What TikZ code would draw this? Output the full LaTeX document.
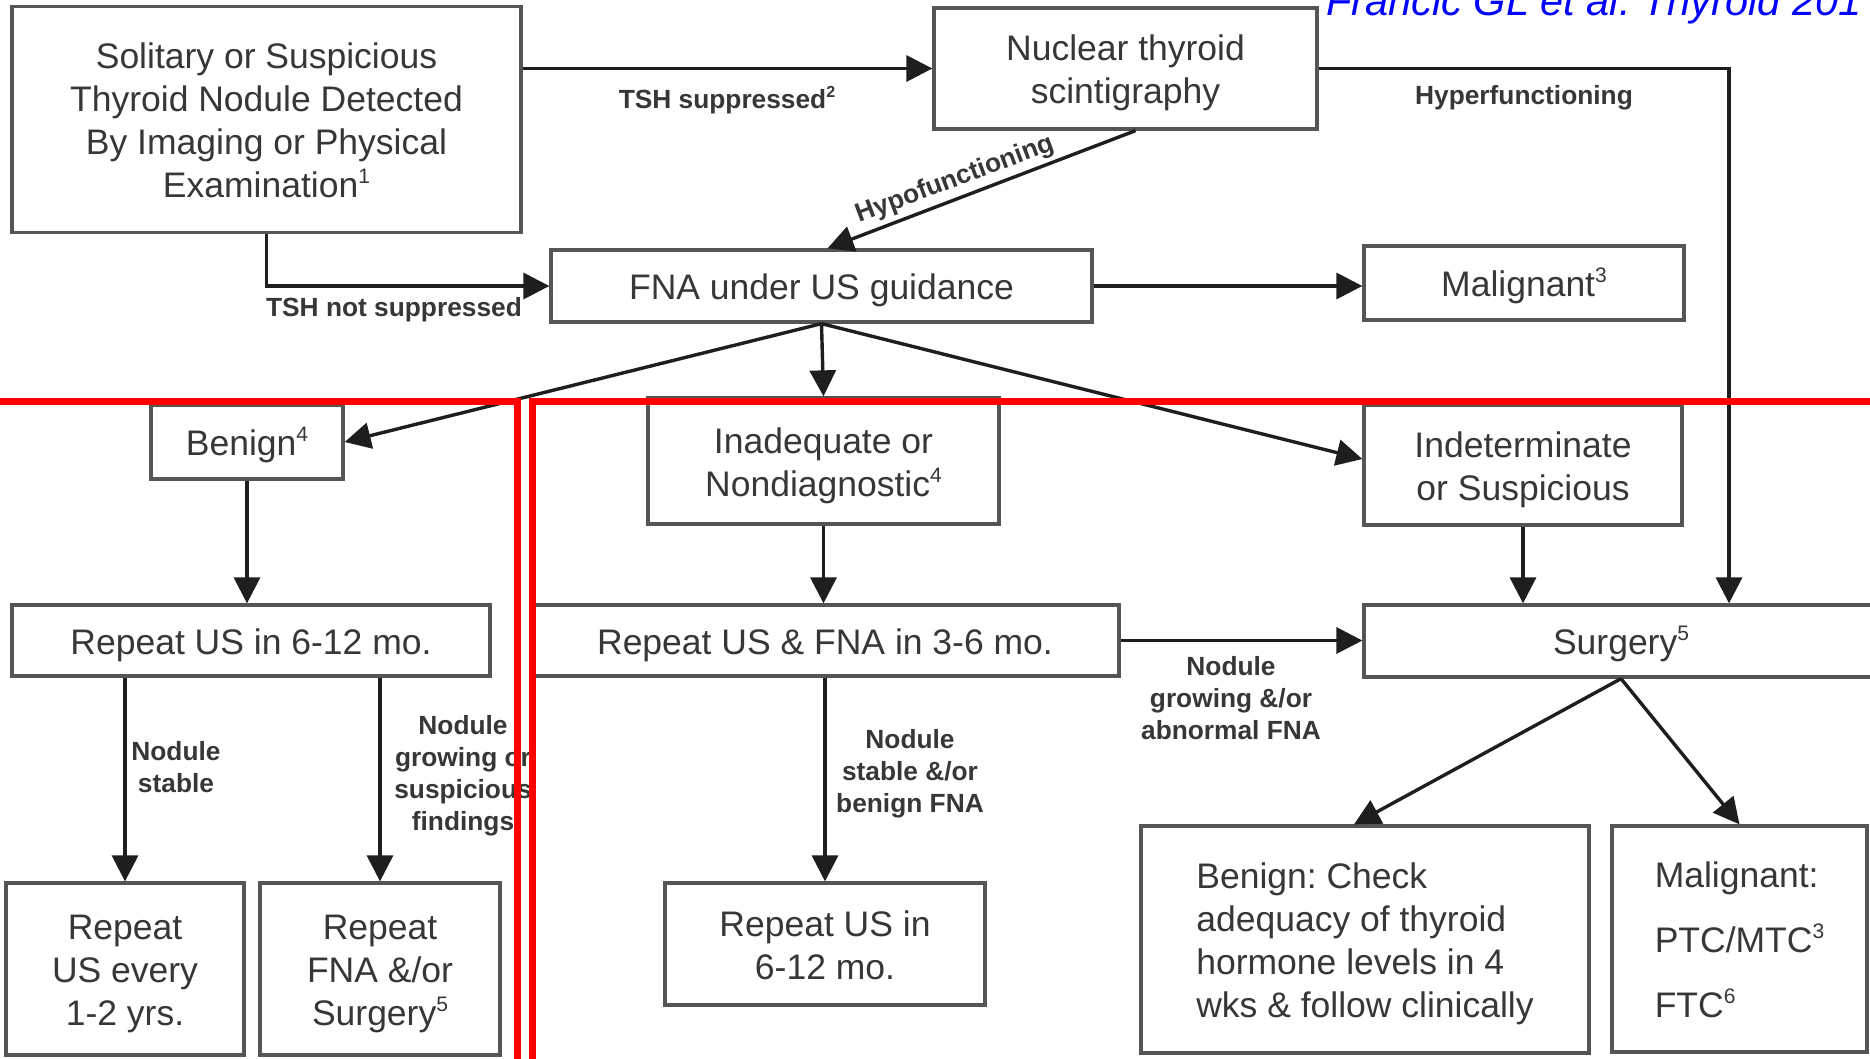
\documentclass[tikz,border=0pt]{standalone}
\usepackage{fontspec}
\setmainfont{Liberation Sans}
\usetikzlibrary{arrows.meta}
\definecolor{boxgray}{RGB}{85,85,85}
\definecolor{txtgray}{RGB}{55,55,55}
\definecolor{arrowblk}{RGB}{30,30,30}
\definecolor{citeblue}{RGB}{0,0,255}
\definecolor{redline}{RGB}{255,0,0}
\frenchspacing
\newcommand{\supn}[1]{\raisebox{0.75ex}{\fontsize{21}{21}\selectfont #1}}
\newcommand{\supl}[1]{\raisebox{0.75ex}{\fontsize{16}{16}\selectfont\bfseries #1}}
\newcommand{\blk}[1]{\raisebox{-5pt}[\height][\depth]{\begin{tabular}{@{}c@{}}#1\end{tabular}}}
\newcommand{\blkl}[1]{\raisebox{-5pt}[\height][\depth]{\begin{tabular}{@{}l@{}}#1\end{tabular}}}
\begin{document}
\begin{tikzpicture}[x=1pt,y=-1pt,
  box/.style={draw=boxgray, line width=3.3pt, text=txtgray, font=\fontsize{35.5}{43}\selectfont, inner sep=0pt},
  lbl/.style={text=txtgray, font=\fontsize{26.3}{32}\selectfont\bfseries, inner sep=0pt, align=center},
  arr/.style={draw=arrowblk, line width=3.4pt, -{Triangle[length=26pt,width=26pt]}},
  redl/.style={draw=redline, line width=7pt, line join=miter}]
\useasboundingbox (0,0) rectangle (1870,1058);
\clip (0,0) rectangle (1870,1058);
\fill[white] (0,0) rectangle (1870,1058);

% boxes
\node[box, minimum width=509pt, minimum height=226pt] (sol) at (266.5,119.5) {\blk{Solitary or Suspicious\\Thyroid Nodule Detected\\By Imaging or Physical\\Examination\supn{1}}};
\node[box, minimum width=383pt, minimum height=121pt] (nuc) at (1125.5,68.5) {\blk{Nuclear thyroid\\scintigraphy}};
\node[box, minimum width=541pt, minimum height=72pt] (fna) at (821.5,286) {\blk{FNA under US guidance}};
\node[box, minimum width=320pt, minimum height=74pt] (mal) at (1524,283) {\blk{Malignant\supn{3}}};
\node[box, minimum width=192pt, minimum height=74pt] (ben) at (247,442) {\blk{Benign\supn{4}}};
\node[box, minimum width=351pt, minimum height=126pt] (inad) at (823.5,461) {\blk{Inadequate or\\Nondiagnostic\supn{4}}};
\node[box, minimum width=318pt, minimum height=120pt] (ind) at (1523,465) {\blk{Indeterminate\\or Suspicious}};
\node[box, minimum width=478pt, minimum height=71pt] (rus) at (251,640.5) {\blk{Repeat US in 6-12 mo.}};
\node[box, minimum width=588pt, minimum height=71pt] (rusf) at (825,640.5) {\blk{Repeat US \& FNA in 3-6 mo.}};
\node[box, minimum width=514pt, minimum height=72pt] (surg) at (1621,641) {\blk{Surgery\supn{5}}};
\node[box, minimum width=238pt, minimum height=172pt] (b1) at (125,969) {\blk{Repeat\\US every\\1-2 yrs.}};
\node[box, minimum width=240pt, minimum height=172pt] (b2) at (380,969) {\blk{Repeat\\FNA \&/or\\Surgery\supn{5}}};
\node[box, minimum width=320pt, minimum height=122pt] (b3) at (825,944) {\blk{Repeat US in\\6-12 mo.}};
\node[box, minimum width=448pt, minimum height=227pt] (b4) at (1365,939.5) {\blkl{Benign: Check\\adequacy of thyroid\\hormone levels in 4\\wks \& follow clinically}};
\node[box, minimum width=255pt, minimum height=226pt] (b5) at (1739.5,939) {\blkl{Malignant:\\[22pt]PTC/MTC\supn{3}\\[22pt]FTC\supn{6}}};

% helper coordinate
\coordinate (hypc) at (1729,68.5);

% connectors
\draw[arr] (sol.east |- nuc.west) -- (nuc.west);
\draw[arr] (nuc.east) -- (hypc) -- (hypc |- surg.north);
\draw[arr] ([xshift=10pt]nuc.south) -- ([xshift=6pt]fna.north);
\draw[arr] (sol.south) |- (fna.west);
\draw[arr] (fna.east) -- (fna.east -| mal.west);
\draw[arr] (fna.south) -- (ben.east);
\draw[arr] (fna.south) -- (inad.north);
\draw[arr] (fna.south) -- ([yshift=6pt]ind.west);
\draw[arr] (ben.south) -- (ben.south |- rus.north);
\draw[arr] (inad.south) -- (inad.south |- rusf.north);
\draw[arr] (ind.south) -- (ind.south |- surg.north);
\draw[arr] (rusf.east) -- (rusf.east -| surg.west);
\draw[arr] (rus.south -| b1.north) -- (b1.north);
\draw[arr] (rus.south -| b2.north) -- (b2.north);
\draw[arr] (rusf.south) -- (rusf.south |- b3.north);
\draw[arr] (surg.south) -- ([xshift=-11pt]b4.north);
\draw[arr] (surg.south) -- (b5.north);

% labels
\node[lbl] (l1) at (727,100) {TSH suppressed\supl{2}};
\node[lbl] (l2) at (1524,98) {Hyperfunctioning};
\node[lbl, rotate=20.5] (l3) at (955,180) {Hypofunctioning};
\node[lbl] (l4) at (394,310) {TSH not suppressed};
\node[lbl] (l5) at (1231,698) {Nodule\\growing \&/or\\abnormal FNA};
\node[lbl] (l6) at (176,767) {Nodule\\stable};
\node[lbl] (l7) at (463,776) {Nodule\\growing or\\suspicious\\findings};
\node[lbl] (l8) at (910,774) {Nodule\\stable \&/or\\benign FNA};

% citation
\node[anchor=base west, text=citeblue, font=\fontsize{41.5}{48}\selectfont\itshape, inner sep=0pt] (cite) at (1326,15) {Francic GL et al. Thyroid 201};

% red overlay lines
\draw[redl] (-10,401.5) -- (517,401.5) -- (517,1070);
\draw[redl] (1880,401.5) -- (532.5,401.5) -- (532.5,1070);
\end{tikzpicture}
\end{document}
